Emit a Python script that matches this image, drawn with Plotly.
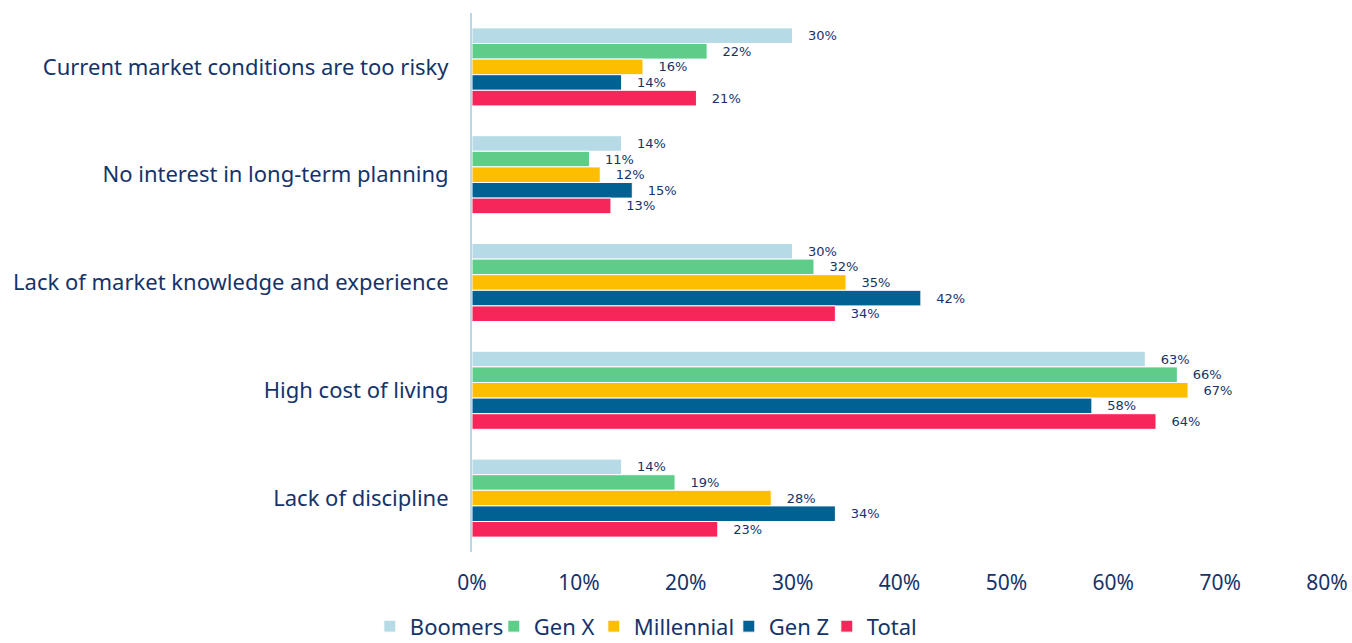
import plotly.graph_objects as go

categories = [
    "Current market conditions are too risky",
    "No interest in long-term planning",
    "Lack of market knowledge and experience",
    "High cost of living",
    "Lack of discipline",
]
series_names = ["Boomers", "Gen X", "Millennial", "Gen Z", "Total"]
boomers = [30, 14, 30, 63, 14]
gen_x = [22, 11, 32, 66, 19]
millennial = [16, 12, 35, 67, 28]
gen_z = [14, 15, 42, 58, 34]
total = [21, 13, 34, 64, 23]
colors = ["#b7dbe6", "#5ecd89", "#fdbe00", "#006192", "#f7265a"]
legend_widths = [79, 55, 90, 53, 50]
x_ticks = [0, 10, 20, 30, 40, 50, 60, 70, 80]
x_tick_labels = ["0%", "10%", "20%", "30%", "40%", "50%", "60%", "70%", "80%"]

NAVY = "#15336b"
FONT = "Noto Sans"

fig = go.Figure()
for name, vals, col, lw in zip(series_names, [boomers, gen_x, millennial, gen_z, total], colors, legend_widths):
    fig.add_trace(go.Bar(
        y=categories, x=vals, name=name, orientation="h",
        marker=dict(color=col, line=dict(color="white", width=1)),
        text=["\u00a0\u00a0\u00a0" + str(v) + "%" for v in vals],
        texttemplate="%{text}",
        textposition="outside",
        textfont=dict(size=13, color=NAVY, family="DejaVu Sans"),
        cliponaxis=False,
        legendwidth=lw,
    ))

fig.update_layout(
    width=1352, height=643,
    barmode="group", bargap=0.276, bargroupgap=0,
    plot_bgcolor="white", paper_bgcolor="white",
    margin=dict(l=472, r=25, t=13, b=91, autoexpand=False),
    font=dict(family=FONT, color=NAVY, size=20),
    xaxis=dict(
        range=[0, 80], tickvals=x_ticks, ticktext=x_tick_labels,
        showgrid=False, zeroline=False, showline=False, automargin=False,
        tickfont=dict(size=21, color=NAVY), ticks="", ticklabelstandoff=16,
        tickangle=0,
    ),
    yaxis=dict(
        autorange="reversed", showgrid=False, zeroline=False, automargin=False,
        showline=True, linecolor="#b9d7ea", linewidth=2,
        tickfont=dict(size=22, color=NAVY), ticks="", ticklabelstandoff=17,
    ),
    legend=dict(
        orientation="h", x=-0.1195, xanchor="left",
        y=-0.099, yanchor="top",
        font=dict(size=22, color=NAVY),
    ),
    showlegend=True,
)

fig.write_html(
    "out.html",
    config={"displayModeBar": False},
    post_script="document.body.style.margin='0';document.body.style.overflow='hidden';",
)
